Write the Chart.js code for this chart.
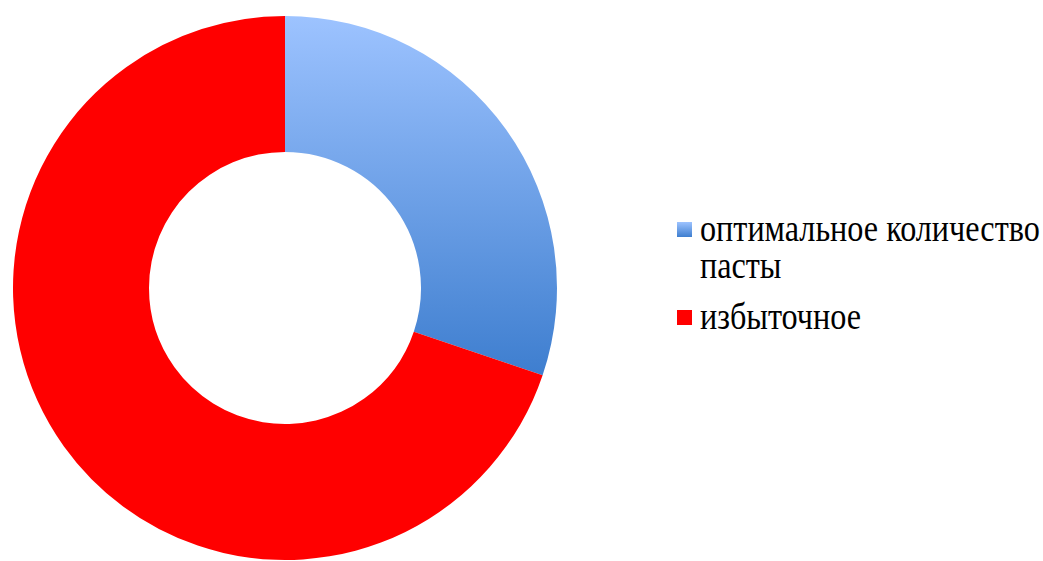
<!DOCTYPE html>
<html>
<head>
<meta charset="utf-8">
<script src="https://cdn.jsdelivr.net/npm/chart.js@4"></script>
<style>
  html, body { margin: 0; padding: 0; background: #fff; }
  body { width: 1043px; height: 561px; position: relative; overflow: hidden; }
  #wrap { position: absolute; left: 0; top: 0; width: 560px; height: 561px; }
  #legend { position: absolute; left: 677px; top: 210px; font-family: "Liberation Serif", "Times New Roman", serif; font-size: 37px; color: #000; line-height: 37px; }
  .item { display: flex; align-items: flex-start; margin-bottom: 14px; }
  .box { width: 15px; height: 15px; margin-top: 12px; margin-right: 8px; flex: none; }
  .txt { width: 500px; white-space: nowrap; transform: scaleX(0.87); transform-origin: 0 0; }
</style>
</head>
<body>
<div id="wrap"><canvas id="c"></canvas></div>
<div id="legend"></div>
<script>
const categories = ["оптимальное количество пасты", "избыточное"];
const values = [30.2, 69.8];
const legendLines = [["оптимальное количество", "пасты"], ["избыточное"]];

const blueTop = "#9DC3FF";
const blueBottom = "#3E7ECF";
const red = "#FF0000";

function sliceColor(ctx) {
  if (ctx.dataIndex === 0) {
    const chart = ctx.chart;
    const area = chart.chartArea;
    if (!area) return blueBottom;
    const g = chart.ctx.createLinearGradient(0, area.top, 0, area.top + (area.bottom - area.top) * 0.66);
    g.addColorStop(0, blueTop);
    g.addColorStop(1, blueBottom);
    return g;
  }
  return red;
}

new Chart(document.getElementById("c"), {
  type: "doughnut",
  data: {
    labels: categories,
    datasets: [{
      data: values,
      backgroundColor: sliceColor,
      borderWidth: 0
    }]
  },
  options: {
    responsive: true,
    maintainAspectRatio: false,
    animation: false,
    cutout: "50%",
    layout: { padding: { top: 16, bottom: 1, left: 13, right: 3 } },
    plugins: {
      legend: { display: false },
      tooltip: { enabled: false }
    }
  }
});

const legend = document.getElementById("legend");
categories.forEach((cat, i) => {
  const item = document.createElement("div");
  item.className = "item";
  const box = document.createElement("div");
  box.className = "box";
  box.style.background = i === 0 ? `linear-gradient(${blueTop}, ${blueBottom})` : red;
  const txt = document.createElement("div");
  txt.className = "txt";
  txt.innerHTML = legendLines[i].join("<br>");
  item.appendChild(box);
  item.appendChild(txt);
  legend.appendChild(item);
});
</script>
</body>
</html>
